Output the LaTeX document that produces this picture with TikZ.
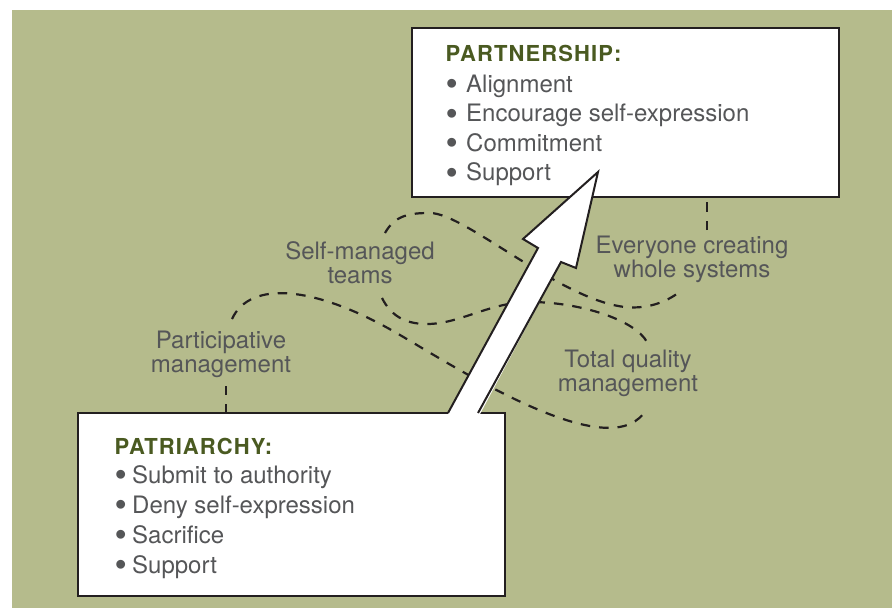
\documentclass[tikz,border=0pt]{standalone}
\usepackage{fontspec}
\setmainfont{TeX Gyre Heros}
\newfontfamily\titlefont[LetterSpace=5]{TeX Gyre Heros}
\newfontfamily\bulletfont{Liberation Sans}
\newcommand{\itembullet}[1]{\makebox[#1][l]{\raisebox{-2.8pt}{\scalebox{1.35}{\bulletfont •}}}}
\usetikzlibrary{calc}
\definecolor{bggreen}{RGB}{181,187,140}
\definecolor{titlegreen}{RGB}{74,90,33}
\definecolor{labelgray}{RGB}{85,86,88}
\definecolor{inkline}{RGB}{35,31,32}
\begin{document}
\begin{tikzpicture}[x=1pt,y=-1pt,
  box/.style={draw=inkline, line width=2pt, fill=white, rectangle, inner sep=0pt, outer sep=0pt, anchor=north west},
  titletext/.style={anchor=base west, inner sep=0pt, text=titlegreen, font=\titlefont\bfseries\fontsize{22}{22}\selectfont},
  itemtext/.style={anchor=base west, inner sep=0pt, text=labelgray, font=\fontsize{24}{24}\selectfont},
  labeltext/.style={anchor=base, inner sep=0pt, text=labelgray, font=\fontsize{24}{24.5}\selectfont},
  link/.style={draw=inkline, line width=2.2pt, dash pattern=on 9.5pt off 9pt},
  arrowline/.style={draw=inkline, line width=2pt, line join=miter}
]
\useasboundingbox (0,0) rectangle (892,608);
\fill[white] (0,0) rectangle (892,608);
\fill[bggreen] (12,10) rectangle (892,608);

% boxes
\node[box, minimum width=427pt, minimum height=169pt] (partner) at (412,28) {};
\node[box, minimum width=427pt, minimum height=183pt] (pat) at (78,413) {};

% labels
\node[labeltext] (smt) at (360,259) {\begin{tabular}[t]{@{}c@{}}Self-managed\\teams\end{tabular}};
\node[labeltext] (ecw) at (692,253) {\begin{tabular}[t]{@{}c@{}}Everyone creating\\whole systems\end{tabular}};
\node[labeltext] (pm) at (221,348) {\begin{tabular}[t]{@{}c@{}}Participative\\management\end{tabular}};
\node[labeltext] (tqm) at (628,367) {\begin{tabular}[t]{@{}c@{}}Total quality\\management\end{tabular}};

% dashed connectors
\draw[link] ($(pat.north west)+(148,0)$) -- ($(pm.base)+(5,38)$);
\draw[link] ($(pm.base)+(11,-29)$) .. controls +(18,-39) and +(-85,-50) .. (400,335)
   .. controls +(60,35) and +(-32,62) .. ($(tqm.base)+(19,41)$);
\draw[link] ($(smt.base)+(22,39)$) .. controls +(10,20) and +(-19,0) .. (427,324)
   .. controls +(33,0) and +(-40,0) .. (530,302)
   .. controls +(50,0) and +(-12,-22) .. ($(tqm.base)+(19,-25)$);
\draw[link] ($(smt.base)+(25,-26)$) .. controls +(10,-18) and +(-20,0) .. (430,213)
   .. controls +(35,0) and +(-65,-7) .. (625,307)
   .. controls +(25,2.7) and +(-12,10) .. ($(ecw.base)+(-10,37)$);
\draw[link] ($(ecw.base)+(15,-23)$) -- ($(partner.south west)+(295,0)$);

% box texts
\node[titletext] (ptitle) at (445.5,61) {PARTNERSHIP:};
\node[itemtext] (pa1) at (446,92) {\itembullet{20pt}Alignment};
\node[itemtext] (pa2) at (446,121.5) {\itembullet{20pt}Encourage self-expression};
\node[itemtext] (pa3) at (446,151) {\itembullet{20pt}Commitment};
\node[itemtext] (pa4) at (446,180.5) {\itembullet{20pt}Support};

\node[titletext] (ttitle) at (114.5,454) {PATRIARCHY:};
\node[itemtext] (tb1) at (115,483) {\itembullet{17pt}Submit to authority};
\node[itemtext] (tb2) at (115,513) {\itembullet{17pt}Deny self-expression};
\node[itemtext] (tb3) at (115,543) {\itembullet{17pt}Sacrifice};
\node[itemtext] (tb4) at (115,573) {\itembullet{17pt}Support};

% big arrow from patriarchy to partnership
\coordinate (abl) at ($(pat.north west)+(370,0)$);
\coordinate (abr) at ($(pat.north west)+(400,0)$);
\coordinate (atip) at ($(partner.south west)+(186,-25)$);
\fill[white] ($(abl)+(-1,3)$) -- (538,248) -- (523,239) -- (atip) -- (576,268) -- (561,262) -- ($(abr)+(1,3)$) -- cycle;
\draw[arrowline] (abl) -- (538,248) -- (523,239) -- (atip) -- (576,268) -- (561,262) -- (abr);
\end{tikzpicture}
\end{document}
